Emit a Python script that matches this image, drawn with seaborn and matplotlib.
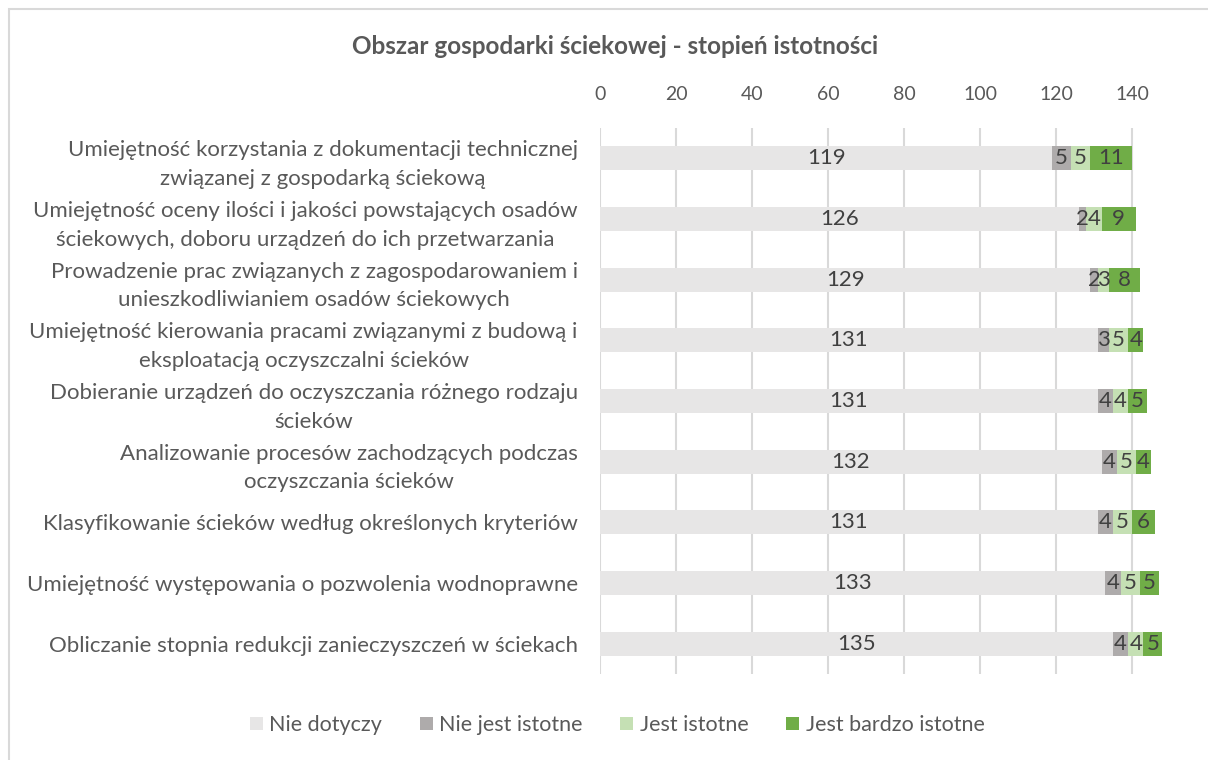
import matplotlib
matplotlib.use("Agg")
import matplotlib.pyplot as plt
import seaborn as sns
import numpy as np
import pandas as pd
from matplotlib.patches import Patch, Rectangle

sns.set_theme(style="white")
plt.rcParams['font.family'] = ['Lato', 'DejaVu Sans']

title = "Obszar gospodarki ściekowej - stopień istotności"
categories = [
    "Umiejętność korzystania z dokumentacji technicznej\nzwiązanej z gospodarką ściekową",
    "Umiejętność oceny ilości i jakości powstających osadów\nściekowych, doboru urządzeń do ich przetwarzania",
    "Prowadzenie prac związanych z zagospodarowaniem i\nunieszkodliwianiem osadów ściekowych",
    "Umiejętność kierowania pracami związanymi z budową i\neksploatacją oczyszczalni ścieków",
    "Dobieranie urządzeń do oczyszczania różnego rodzaju\nścieków",
    "Analizowanie procesów zachodzących podczas\noczyszczania ścieków",
    "Klasyfikowanie ścieków według określonych kryteriów",
    "Umiejętność występowania o pozwolenia wodnoprawne",
    "Obliczanie stopnia redukcji zanieczyszczeń w ściekach",
]
series_names = ["Nie dotyczy", "Nie jest istotne", "Jest istotne", "Jest bardzo istotne"]
nie_dotyczy = [119, 126, 129, 131, 131, 132, 131, 133, 135]
nie_jest_istotne = [5, 2, 2, 3, 4, 4, 4, 4, 4]
jest_istotne = [5, 4, 3, 5, 4, 5, 5, 5, 4]
jest_bardzo_istotne = [11, 9, 8, 4, 5, 4, 6, 5, 5]
x_ticks = [0, 20, 40, 60, 80, 100, 120, 140]

colors = ["#E7E6E6", "#AEABAB", "#C5E0B4", "#70AD47"]
text_color = "#595959"

series = [nie_dotyczy, nie_jest_istotne, jest_istotne, jest_bardzo_istotne]
vals = np.array(series, dtype=float)
cum = np.cumsum(vals, axis=0)

fig = plt.figure(figsize=(12.08, 7.6), dpi=100)
fig.patch.set_facecolor("white")
ax = fig.add_axes([600/1208, 1-674/760, 1-600/1208, (674-128)/760])

# draw cumulative totals from the largest down so segments stack
for i in range(3, -1, -1):
    df = pd.DataFrame({"cat": categories, "val": cum[i]})
    sns.barplot(data=df, y="cat", x="val", orient="h", color=colors[i],
                width=0.4, ax=ax, saturation=1, zorder=2, linewidth=0)

# data labels
for i in range(4):
    starts = cum[i] - vals[i]
    for j in range(len(categories)):
        ax.text(starts[j] + vals[i][j] / 2, j, f"{int(vals[i][j])}",
                ha="center", va="center", fontsize=16, color="#404040", zorder=5)

ax.set_xlim(0, 160)
ax.set_ylim(len(categories) - 0.5, -0.5)
ax.set_xticks(x_ticks)
ax.set_xticklabels([str(t) for t in x_ticks], fontsize=14, color=text_color)
ax.xaxis.tick_top()
ax.tick_params(axis="x", length=0, pad=18)
ax.tick_params(axis="y", length=0, pad=16)
ax.set_yticks(range(len(categories)))
ax.set_yticklabels(categories, fontsize=16, color=text_color,
                   multialignment="center", linespacing=1.55)
ax.set_xlabel("")
ax.set_ylabel("")
for s in ax.spines.values():
    s.set_visible(False)
ax.grid(axis="x", color="#D9D9D9", linewidth=1.5, zorder=0)
ax.set_axisbelow(True)

fig.text(0.509, 1-47/760, title, ha="center", va="center", fontsize=17.5,
         fontweight="bold", color=text_color)

handles = [Patch(facecolor=c, edgecolor="none") for c in colors]
fig.legend(handles, series_names, loc="center", bbox_to_anchor=(0.511, 1-725/760),
           ncol=4, frameon=False, fontsize=15.5, handlelength=0.6, handleheight=0.6,
           handletextpad=0.3, columnspacing=1.75, labelcolor=text_color)

fig.patches.append(Rectangle((8.5/1208, -0.1), 1.2, 1 - 9.5/760 + 0.1,
                             transform=fig.transFigure, fill=False,
                             edgecolor="#D9D9D9", linewidth=1.5))

fig.savefig("out.png", dpi=100)
